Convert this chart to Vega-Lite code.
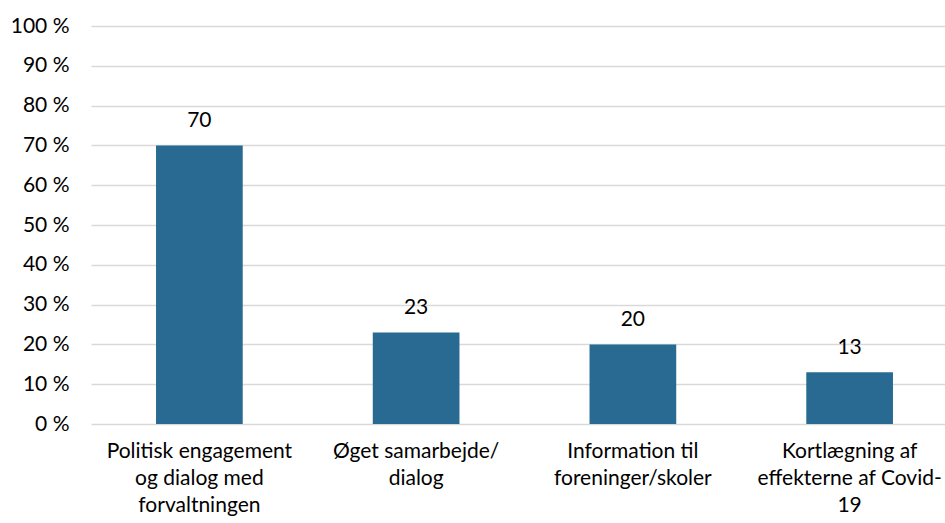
{
  "$schema": "https://vega.github.io/schema/vega-lite/v6.json",
  "autosize": "none",
  "width": 867,
  "height": 398,
  "padding": {"left": 91, "top": 26, "right": 0, "bottom": 99},
  "background": "white",
  "data": {
    "values": [
      {"kategori": "Politisk engagement\nog dialog med\nforvaltningen", "andel": 70},
      {"kategori": "Øget samarbejde/\ndialog", "andel": 23},
      {"kategori": "Information til\nforeninger/skoler", "andel": 20},
      {"kategori": "Kortlægning af\neffekterne af Covid-\n19", "andel": 13}
    ]
  },
  "encoding": {
    "x": {
      "field": "kategori",
      "type": "nominal",
      "sort": null,
      "scale": {"paddingInner": 0.6, "paddingOuter": 0.3},
      "axis": {
        "title": null,
        "labelAngle": 0,
        "domain": false,
        "ticks": false,
        "labelPadding": 16,
        "labelExpr": "split(datum.value, '\\n')",
        "labelLineHeight": 27,
        "labelBaseline": "top",
        "labelLimit": 400
      }
    },
    "y": {
      "field": "andel",
      "type": "quantitative",
      "scale": {"domain": [0, 100]},
      "axis": {
        "title": null,
        "values": [0, 10, 20, 30, 40, 50, 60, 70, 80, 90, 100],
        "labelExpr": "datum.value + ' %'",
        "domain": false,
        "ticks": false,
        "labelPadding": 22,
        "gridColor": "#D9D9D9",
        "gridWidth": 1.5
      }
    }
  },
  "layer": [
    {"mark": {"type": "bar", "color": "#286A91"}},
    {
      "mark": {"type": "text", "baseline": "alphabetic", "dy": -18, "fontSize": 21, "font": "Lato", "color": "#000000"},
      "encoding": {"text": {"field": "andel", "type": "quantitative"}}
    }
  ],
  "config": {
    "view": {"stroke": null},
    "axis": {"labelFont": "Lato", "labelFontSize": 21, "labelColor": "#000000", "labelFontWeight": "normal"}
  }
}
